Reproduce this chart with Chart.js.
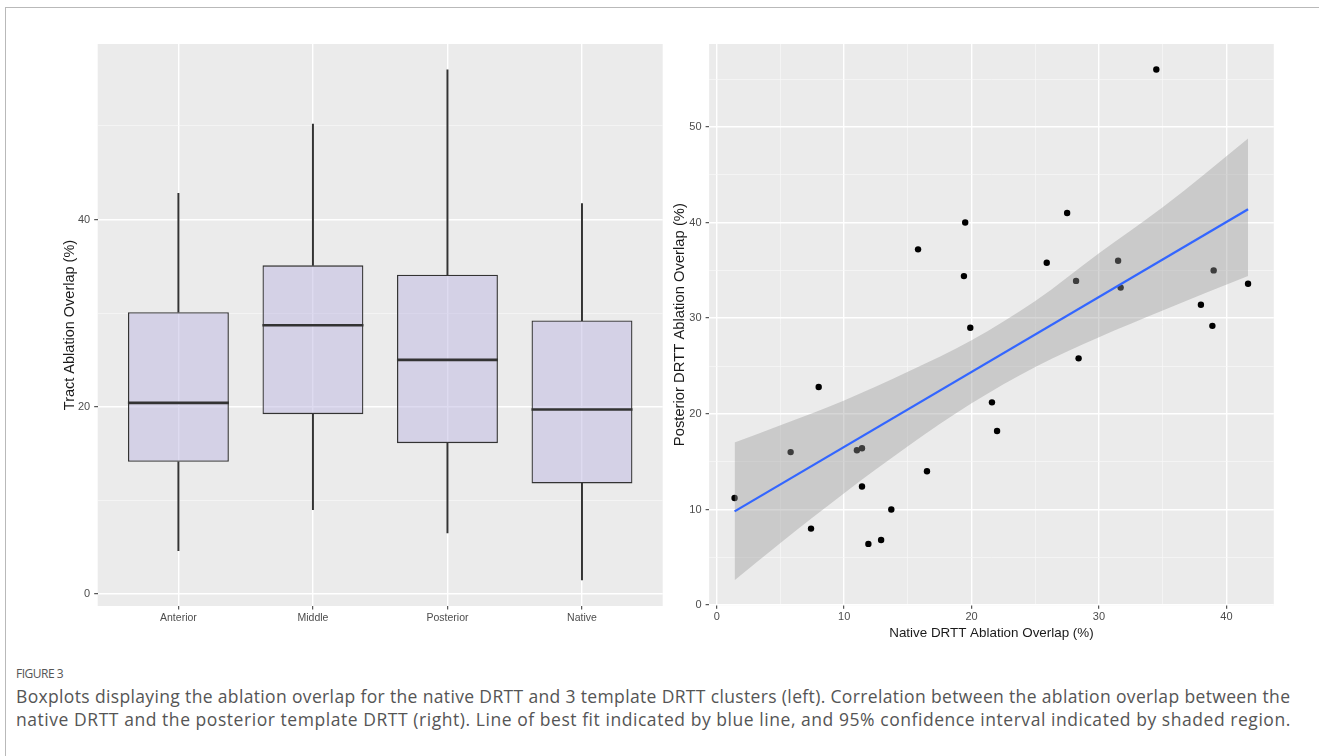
<!DOCTYPE html>
<html>
<head>
<meta charset="utf-8">
<script src="https://cdn.jsdelivr.net/npm/chart.js@4.4.1/dist/chart.umd.min.js"></script>
<style>
  html, body { margin: 0; padding: 0; background: #fff; }
  body { width: 1319px; height: 756px; position: relative; overflow: hidden; font-family: "Open Sans", sans-serif; }
  #frame { position: absolute; left: 5px; top: 7px; width: 1320px; height: 760px;
           border-left: 1.5px solid #b9b9b9; border-top: 1.5px solid #b9b9b9; }
  #boxChart { position: absolute; left: 0; top: 0; }
  #scatterChart { position: absolute; left: 665px; top: 0; }
  .figlabel { position: absolute; left: 16px; top: 666px; font-size: 12px; line-height: 16px; color: #555; letter-spacing: -0.5px; }
  .capline { position: absolute; left: 16px; font-size: 17.5px; line-height: 23px; color: #555; white-space: nowrap; }
</style>
</head>
<body>
<div id="frame"></div>
<canvas id="boxChart" width="680" height="650"></canvas>
<canvas id="scatterChart" width="654" height="650"></canvas>
<div class="figlabel">FIGURE 3</div>
<div class="capline" style="top:685px; letter-spacing:0.35px;">Boxplots displaying the ablation overlap for the native DRTT and 3 template DRTT clusters (left). Correlation between the ablation overlap between the</div>
<div class="capline" style="top:708px; letter-spacing:0.55px;">native DRTT and the posterior template DRTT (right). Line of best fit indicated by blue line, and 95% confidence interval indicated by shaded region.</div>

<script>
// ! left panel - boxplot values
const clusters = ['Anterior', 'Middle', 'Posterior', 'Native'];
const whiskerLow = [4.6, 9.0, 6.5, 1.5];
const q1 = [14.1, 19.2, 16.1, 11.8];
const medians = [20.4, 28.7, 25.0, 19.7];
const q3 = [30.1, 35.1, 34.1, 29.2];
const whiskerHigh = [42.8, 50.2, 56.0, 41.7];
const boxMajorTicks = [0, 20, 40];
const boxMinorTicks = [10, 30, 50];

// ! right panel - native vs posterior overlap
const nativeOverlap = [1.4, 5.8, 7.4, 8.0, 11.0, 11.4, 11.4, 11.9, 12.9, 13.7, 15.8, 16.5, 19.4, 19.5,
  19.9, 21.6, 22.0, 25.9, 27.5, 28.2, 28.4, 31.5, 31.7, 34.5, 38.0, 38.9, 39.0, 41.7];
const posteriorOverlap = [11.2, 16.0, 8.0, 22.8, 16.2, 16.4, 12.4, 6.4, 6.8, 10.0, 37.2, 14.0, 34.4, 40.0,
  29.0, 21.2, 18.2, 35.8, 41.0, 33.9, 25.8, 36.0, 33.2, 56.0, 31.4, 29.2, 35.0, 33.6];
const fitX = [1.4, 41.7];
const fitY = [9.8, 41.4];
const bandX = [1.4, 5, 10, 15, 20, 25, 30, 35, 41.7];
const bandUpper = [17.0, 18.8, 21.4, 24.4, 27.7, 31.8, 36.8, 41.6, 48.8];
const bandLower = [2.6, 6.5, 11.7, 16.6, 21.1, 24.9, 28.0, 30.8, 34.4];
const xMajorTicks = [0, 10, 20, 30, 40];
const xMinorTicks = [5, 15, 25, 35];
const yMajorTicks = [0, 10, 20, 30, 40, 50];
const yMinorTicks = [5, 15, 25, 35, 45, 55];

const tickFont = { family: 'Liberation Sans, Arial, sans-serif', size: 11 };
const titleFont = (size) => ({ family: 'Liberation Sans, Arial, sans-serif', size: size });

// grey ggplot panel behind the grid
const panelBg = {
  id: 'panelBg',
  beforeDraw(chart) {
    const { ctx, chartArea: a } = chart;
    ctx.save();
    ctx.fillStyle = '#ebebeb';
    ctx.fillRect(a.left, a.top, a.right - a.left, a.bottom - a.top);
    ctx.restore();
  }
};

// major / minor grid helpers
function gridFor(major) {
  const isMajor = (c) => c.tick && major.includes(c.tick.value);
  return {
    color: (c) => isMajor(c) ? '#ffffff' : '#f8f8f8',
    lineWidth: (c) => isMajor(c) ? 1.4 : 0.7,
    tickColor: (c) => isMajor(c) ? '#333333' : 'rgba(0,0,0,0)',
    tickLength: 3.5,
    tickWidth: 1,
    offset: false
  };
}
const setTicks = (values) => (scale) => {
  scale.ticks = values.slice().sort((a, b) => a - b).map((v) => ({ value: v }));
};

// ! boxplot
const boxCtx = document.getElementById('boxChart').getContext('2d');
const bChart = new Chart(boxCtx, {
  type: 'bar',
  data: {
    datasets: [
      {
        type: 'scatter',
        label: 'Median',
        data: clusters.map((c, i) => ({ x: i + 1, y: medians[i] })),
        pointStyle: 'line',
        pointRadius: 50.5,
        pointHoverRadius: 50.5,
        pointBorderColor: '#333333',
        pointBorderWidth: 2.6
      },
      {
        label: 'Box',
        data: clusters.map((c, i) => ({ x: i + 1, y: [q1[i], q3[i]] })),
        backgroundColor: 'rgba(189,183,225,0.5)',
        borderColor: '#333333',
        borderWidth: 1.3,
        borderSkipped: false,
        barPercentage: 0.75,
        categoryPercentage: 1,
        grouped: false
      },
      {
        label: 'Upper whisker',
        data: clusters.map((c, i) => ({ x: i + 1, y: [q3[i], whiskerHigh[i]] })),
        backgroundColor: '#333333',
        barThickness: 1.3,
        grouped: false
      },
      {
        label: 'Lower whisker',
        data: clusters.map((c, i) => ({ x: i + 1, y: [whiskerLow[i], q1[i]] })),
        backgroundColor: '#333333',
        barThickness: 1.3,
        grouped: false
      }
    ]
  },
  options: {
    responsive: false,
    animation: false,
    layout: { autoPadding: false, padding: { top: 44, right: 17.3, bottom: 14, left: 0 } },
    plugins: { legend: { display: false }, tooltip: { enabled: false } },
    scales: {
      x: {
        type: 'linear',
        min: 0.4,
        max: 4.6,
        offset: false,
        afterBuildTicks: setTicks([1, 2, 3, 4]),
        afterFit: (s) => { s.height = 30; },
        ticks: { callback: (v) => clusters[v - 1], color: '#4d4d4d', font: { ...tickFont, size: 10.5 }, padding: 2, maxRotation: 0, autoSkip: false },
        grid: { color: '#ffffff', lineWidth: 1.4, tickColor: '#333333', tickLength: 3.5, tickWidth: 1, offset: false },
        border: { display: false }
      },
      y: {
        min: -1.3,
        max: 58.75,
        afterBuildTicks: setTicks(boxMajorTicks.concat(boxMinorTicks)),
        afterFit: (s) => { s.width = 97.7; },
        ticks: { callback: (v) => boxMajorTicks.includes(v) ? String(v) : '', color: '#4d4d4d', font: tickFont, padding: 4 },
        grid: gridFor(boxMajorTicks),
        border: { display: false },
        title: { display: true, text: 'Tract Ablation Overlap (%)', color: '#1a1a1a', font: titleFont(14.5), padding: { top: 61.3, bottom: 0 } }
      }
    }
  },
  plugins: [panelBg]
});

// ! scatter with fit line and confidence band
const scCtx = document.getElementById('scatterChart').getContext('2d');
const sChart = new Chart(scCtx, {
  type: 'scatter',
  data: {
    datasets: [
      {
        type: 'line',
        label: 'Fit',
        data: fitX.map((x, i) => ({ x: x, y: fitY[i] })),
        borderColor: '#3366ff',
        borderWidth: 2.3,
        pointRadius: 0,
        fill: false
      },
      {
        type: 'line',
        label: '95% CI upper',
        data: bandX.map((x, i) => ({ x: x, y: bandUpper[i] })),
        borderColor: 'rgba(0,0,0,0)',
        borderWidth: 0,
        pointRadius: 0,
        cubicInterpolationMode: 'monotone',
        backgroundColor: 'rgba(153,153,153,0.4)',
        fill: '+1'
      },
      {
        type: 'line',
        label: '95% CI lower',
        data: bandX.map((x, i) => ({ x: x, y: bandLower[i] })),
        borderColor: 'rgba(0,0,0,0)',
        borderWidth: 0,
        pointRadius: 0,
        cubicInterpolationMode: 'monotone',
        fill: false
      },
      {
        label: 'Patients',
        data: nativeOverlap.map((x, i) => ({ x: x, y: posteriorOverlap[i] })),
        backgroundColor: '#000000',
        borderColor: '#000000',
        pointRadius: 3.2,
        pointBorderWidth: 0
      }
    ]
  },
  options: {
    responsive: false,
    animation: false,
    layout: { autoPadding: false, padding: { top: 44, right: 45.2, bottom: 9, left: 0 } },
    plugins: { legend: { display: false }, tooltip: { enabled: false } },
    scales: {
      x: {
        type: 'linear',
        min: -0.6,
        max: 43.72,
        afterBuildTicks: setTicks(xMajorTicks.concat(xMinorTicks)),
        afterFit: (s) => { s.height = 35.7; },
        ticks: { callback: (v) => xMajorTicks.includes(v) ? String(v) : '', color: '#4d4d4d', font: tickFont, padding: 2, maxRotation: 0, autoSkip: false },
        grid: gridFor(xMajorTicks),
        border: { display: false },
        title: { display: true, text: 'Native DRTT Ablation Overlap (%)', color: '#1a1a1a', font: titleFont(13.4), padding: { top: 0, bottom: 0 } }
      },
      y: {
        min: -0.02,
        max: 58.67,
        afterBuildTicks: setTicks(yMajorTicks.concat(yMinorTicks)),
        afterFit: (s) => { s.width = 44.1; },
        ticks: { callback: (v) => yMajorTicks.includes(v) ? String(v) : '', color: '#4d4d4d', font: tickFont, padding: 4 },
        grid: gridFor(yMajorTicks),
        border: { display: false },
        title: { display: true, text: 'Posterior DRTT Ablation Overlap (%)', color: '#1a1a1a', font: titleFont(14.8), padding: { top: 6.1, bottom: 0 } }
      }
    }
  },
  plugins: [panelBg]
});
</script>
</body>
</html>
